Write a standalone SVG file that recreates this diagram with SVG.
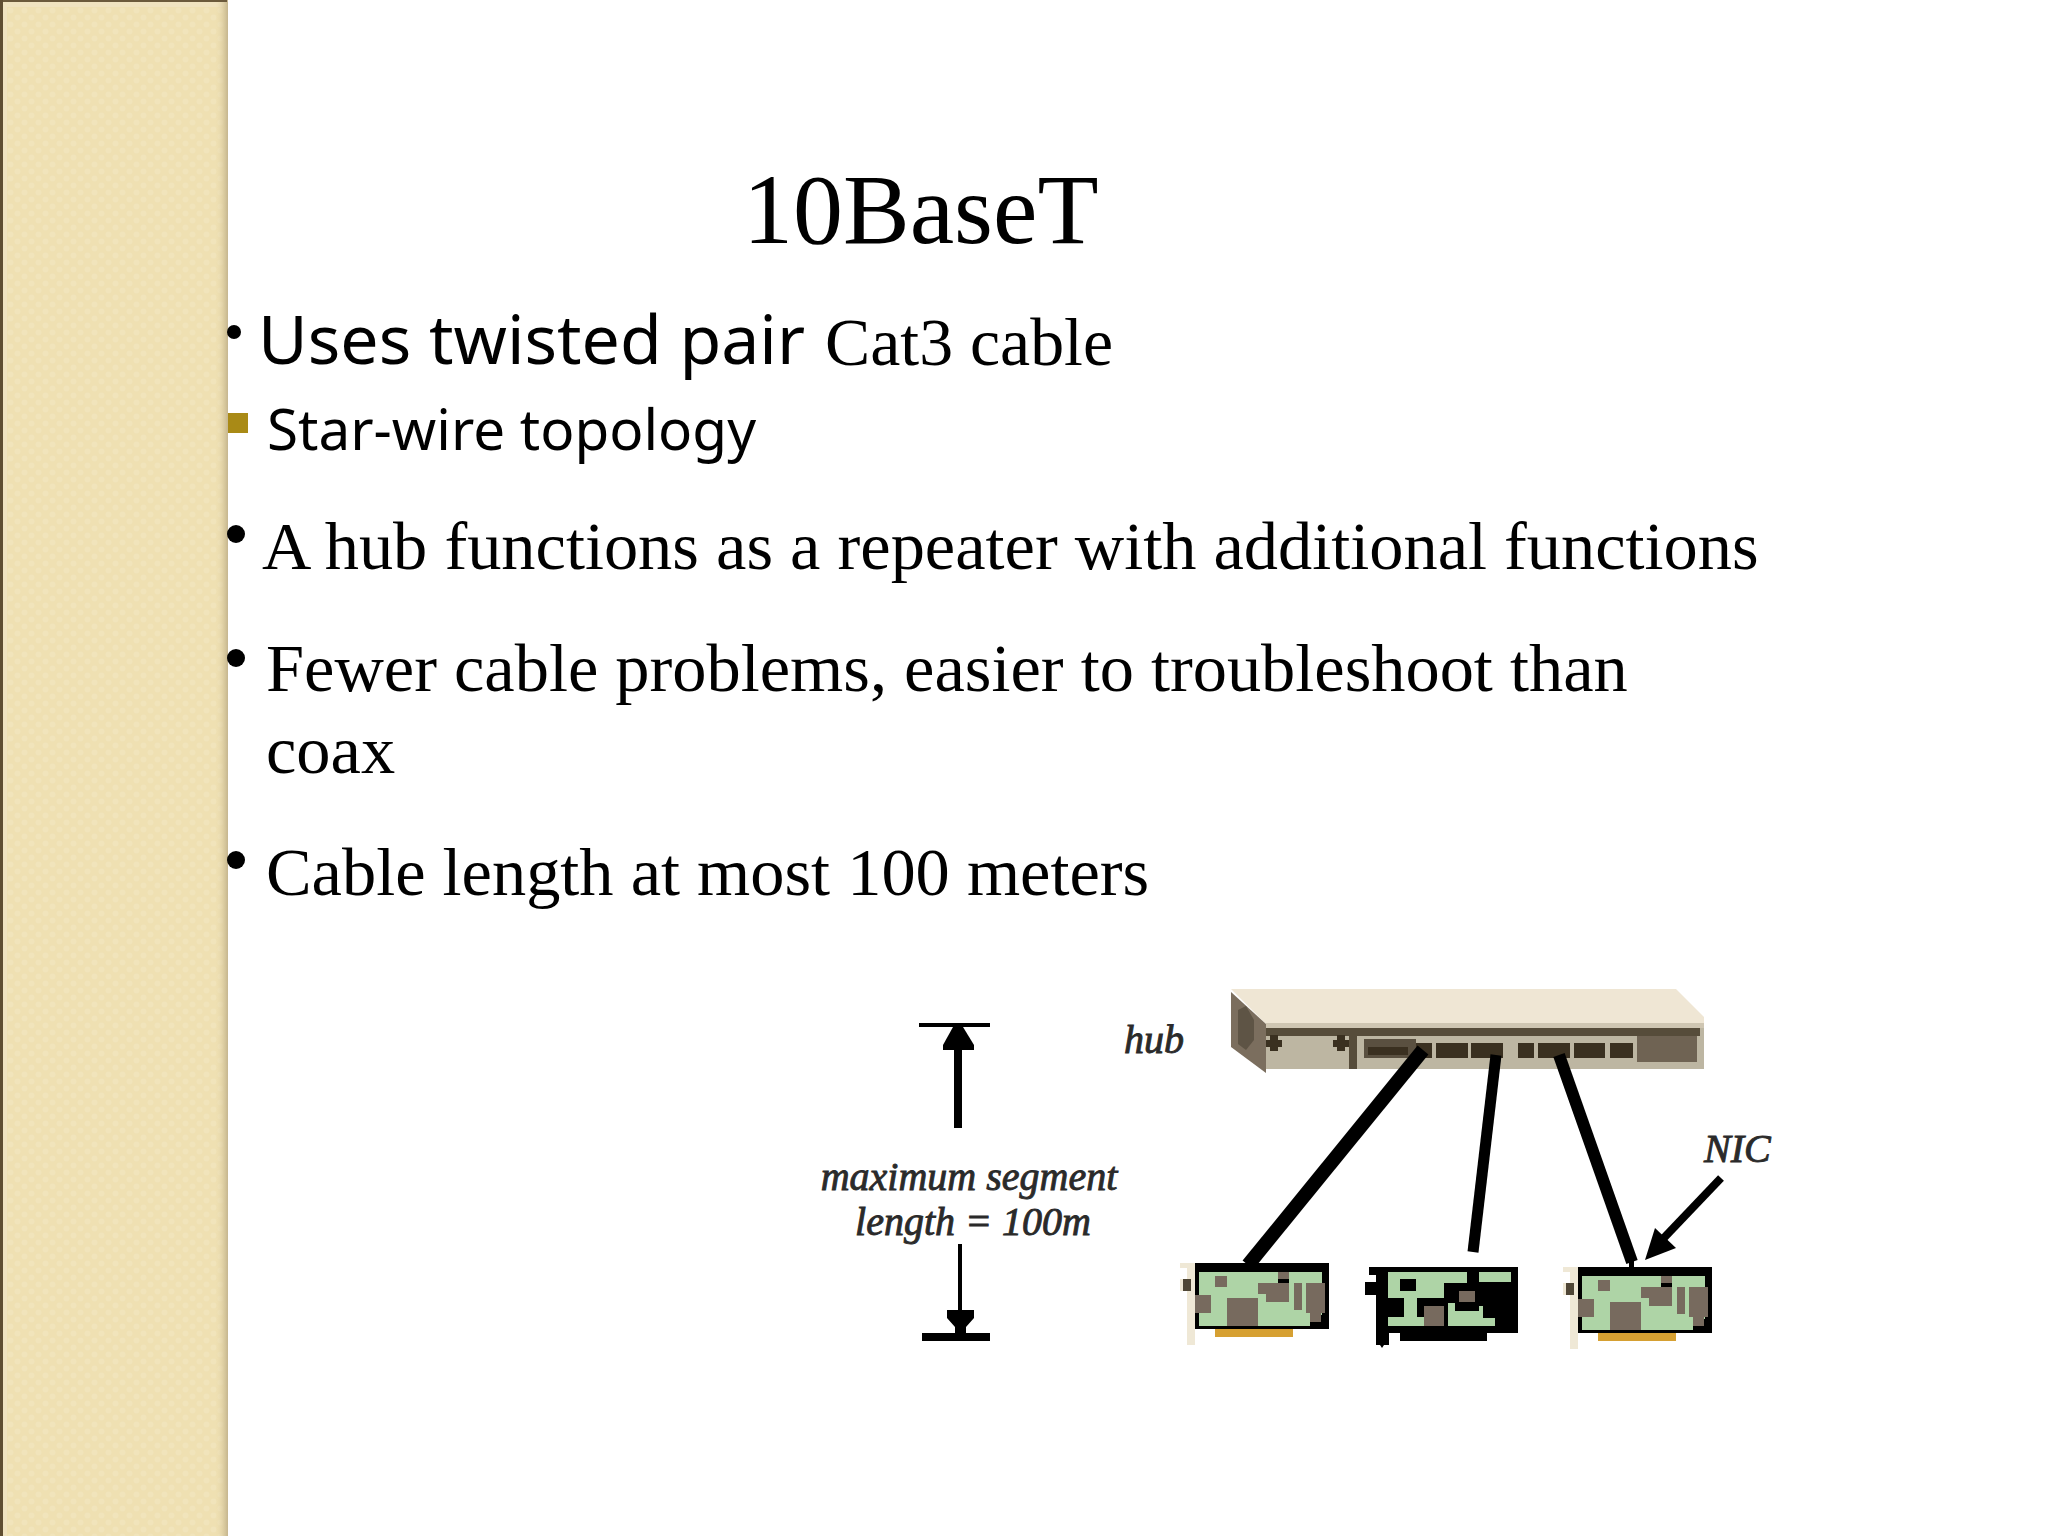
<svg xmlns="http://www.w3.org/2000/svg" xmlns:xlink="http://www.w3.org/1999/xlink" width="2048" height="1536" viewBox="0 0 2048 1536">
<style>
.serif{font-family:"Liberation Serif","Times New Roman",serif;fill:#000}
.sans{font-family:"Noto Sans","Open Sans",sans-serif;fill:#000}
.body{font-size:68.4px}
.img{font-family:"Liberation Serif","Times New Roman",serif;font-style:italic;font-size:40px;fill:#2a2a2a;stroke:#2a2a2a;stroke-width:.9px}
.blk{fill:#000}.grn{fill:#aed4a6}.brn{fill:#776a5e}.gold{fill:#d6a032}.cream{fill:#efe8d6}.dk{fill:#3a3020}
.wire{stroke:#000;fill:none}
</style>
<defs>
<linearGradient id="edge" x1="0" x2="1" y1="0" y2="0">
<stop offset="0" stop-color="#efe0b1" stop-opacity="0"/><stop offset="1" stop-color="#c4b48c"/>
</linearGradient>
<pattern id="weave" width="14" height="14" patternUnits="userSpaceOnUse">
<rect width="14" height="14" fill="#efe0b2"/>
<circle cx="3.500" cy="3.500" r="3" fill="#f1e4bb"/>
<circle cx="10.500" cy="10.500" r="3" fill="#f1e4bb"/>
</pattern>
<g id="card">
<rect class="cream" x="1187" y="1263" width="8" height="82"/>
<rect class="cream" x="1180" y="1263" width="8" height="5"/>
<rect class="cream" x="1180" y="1279" width="5" height="12"/>
<rect x="1183" y="1279" width="8" height="12" fill="#4f4636"/>
<rect class="gold" x="1215" y="1329" width="78" height="8"/>
<rect class="blk" x="1195" y="1263" width="134" height="66"/>
<polygon class="grn" points="1199,1272 1322,1272 1322,1315 1310,1315 1310,1326 1199,1326"/>
<rect class="brn" x="1215" y="1276" width="12" height="11"/>
<rect class="brn" x="1278" y="1272" width="11" height="7"/>
<rect class="blk" x="1278" y="1279" width="11" height="4"/>
<rect class="brn" x="1195" y="1295" width="16" height="18"/>
<rect class="brn" x="1227" y="1298" width="31" height="28"/>
<polygon class="brn" points="1258,1283 1289,1283 1289,1302 1266,1302 1266,1294 1258,1294"/>
<rect class="brn" x="1294" y="1283" width="8" height="27"/>
<polygon class="brn" points="1306,1283 1325,1283 1325,1313 1321,1313 1321,1322 1310,1322 1310,1313 1306,1313"/>
</g>
</defs>

<g id="sidebar">
<rect x="0" y="0" width="227" height="1536" fill="url(#weave)"/>
<rect x="2" y="2" width="223" height="5" fill="#f0e3c0"/>
<rect x="2" y="2" width="5" height="1534" fill="#f0e3c0"/>
<rect x="215" y="0" width="13" height="1536" fill="url(#edge)"/>
<rect x="0" y="0" width="227" height="2" fill="#6b5a3c"/>
<rect x="0" y="0" width="3" height="1536" fill="#5f4e32"/>
</g>

<g id="text">
<text class="serif" x="743" y="243" font-size="100">10BaseT</text>
<circle cx="234" cy="332" r="7"/>
<text class="sans" x="258" y="364" font-size="68">Uses twisted pair</text>
<text class="serif" x="825" y="365" font-size="67.800">Cat3 cable</text>
<rect x="228" y="413" width="20" height="20" fill="#a98a16"/>
<text class="sans" x="267" y="450" font-size="56.600">Star-wire topology</text>
<circle cx="236" cy="534" r="9"/>
<text class="serif body" x="262" y="569">A hub functions as a repeater with additional functions</text>
<circle cx="236" cy="658" r="9"/>
<text class="serif body" x="266" y="691">Fewer cable problems, easier to troubleshoot than</text>
<text class="serif body" x="266" y="773">coax</text>
<circle cx="236" cy="860" r="9"/>
<text class="serif body" x="266" y="895">Cable length at most 100 meters</text>
</g>

<g id="hub">
<polygon points="1231,989 1676,989 1704,1017 1704,1024 1266,1024" fill="#efe6d4"/>
<rect x="1266" y="1023" width="438" height="46" fill="#bdb6a2"/>
<rect x="1266" y="1023" width="438" height="5" fill="#cfc6b2"/>
<polygon points="1231,992 1266,1024 1266,1073 1231,1047" fill="#7b6e5e"/>
<polygon points="1238,1010 1246,1006 1254,1020 1254,1040 1246,1050 1238,1044" fill="#5e5445"/>
<rect x="1266" y="1028" width="434" height="8" fill="#564c3a"/>
<rect x="1349" y="1035" width="8" height="34" fill="#564c3a"/>
<polygon class="dk" points="1270,1035 1278,1035 1278,1040 1282,1040 1282,1047 1278,1047 1278,1051 1270,1051 1270,1047 1266,1047 1266,1040 1270,1040"/>
<polygon class="dk" points="1337,1035 1345,1035 1345,1040 1349,1040 1349,1047 1345,1047 1345,1051 1337,1051 1337,1047 1333,1047 1333,1040 1337,1040"/>
<rect x="1364" y="1039" width="52" height="19" fill="#5a5040"/>
<rect class="dk" x="1368" y="1047" width="40" height="8"/>
<rect class="dk" x="1416" y="1043" width="16" height="15"/>
<rect class="dk" x="1436" y="1043" width="32" height="15"/>
<rect class="dk" x="1471" y="1043" width="32" height="15"/>
<rect class="dk" x="1518" y="1043" width="16" height="15"/>
<rect class="dk" x="1538" y="1043" width="32" height="15"/>
<rect class="dk" x="1574" y="1043" width="31" height="15"/>
<rect class="dk" x="1610" y="1043" width="23" height="15"/>
<rect x="1637" y="1036" width="60" height="26" fill="#6f6353"/>
</g>

<g id="nic1"><use xlink:href="#card" href="#card"/></g>

<g id="nic2">
<polygon class="blk" points="1369,1267 1518,1267 1518,1333 1487,1333 1487,1341 1400,1341 1400,1333 1389,1333 1389,1345 1384,1345 1382,1348 1380,1345 1376,1345 1376,1295 1365,1295 1365,1282 1376,1282 1376,1275 1369,1275"/>
<polygon class="grn" points="1388,1272 1467,1272 1467,1283 1444,1283 1444,1298 1417,1298 1417,1317 1424,1317 1424,1326 1388,1326 1388,1317 1404,1317 1404,1298 1388,1298"/>
<rect class="grn" x="1479" y="1272" width="32" height="10"/>
<polygon class="grn" points="1448,1303 1455,1303 1455,1311 1479,1311 1479,1306 1483,1306 1483,1318 1495,1318 1495,1326 1448,1326"/>
<rect class="blk" x="1400" y="1279" width="16" height="12"/>
<rect class="brn" x="1424" y="1306" width="20" height="20"/>
<rect class="brn" x="1459" y="1291" width="16" height="11"/>
</g>

<g id="nic3"><use xlink:href="#card" href="#card" transform="translate(383 4)"/></g>

<g id="connectors">
<line class="wire" x1="1423" y1="1050" x2="1248" y2="1265" stroke-width="14"/>
<line class="wire" x1="1496" y1="1055" x2="1473" y2="1252" stroke-width="11"/>
<line class="wire" x1="1559" y1="1055" x2="1632" y2="1262" stroke-width="12"/>
<rect class="blk" x="1629" y="1258" width="5" height="10"/>
<line class="wire" x1="1721" y1="1178" x2="1660" y2="1242" stroke-width="8"/>
<polygon class="blk" points="1645,1260 1655,1228 1676,1248"/>
<g id="dimension">
<rect class="blk" x="919" y="1023" width="71" height="4"/>
<polygon class="blk" points="953,1027 963,1027 974,1045 974,1050 943,1050 943,1045"/>
<rect class="blk" x="954" y="1050" width="8" height="78"/>
<rect class="blk" x="958" y="1244" width="4" height="66"/>
<polygon class="blk" points="947,1310 974,1310 974,1318 966,1327 966,1333 955,1333 955,1327 947,1318"/>
<rect class="blk" x="922" y="1333" width="68" height="8"/>
</g>
</g>

<g id="labels">
<text class="img" x="1124" y="1053">hub</text>
<text class="img" x="1704" y="1162">NIC</text>
<text class="img" x="969" y="1190" text-anchor="middle">maximum segment</text>
<text class="img" x="973" y="1235" text-anchor="middle">length = 100m</text>
</g>
</svg>
